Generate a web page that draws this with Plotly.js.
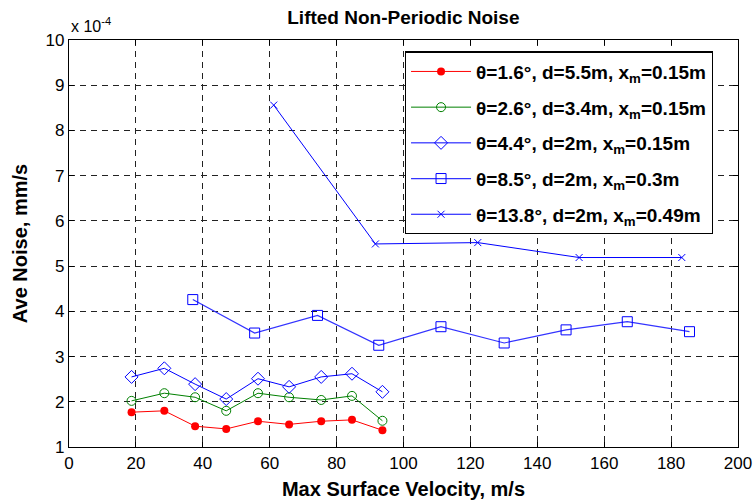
<!DOCTYPE html>
<html>
<head>
<meta charset="utf-8">
<script src="https://cdn.plot.ly/plotly-3.0.1.min.js"></script>
<style>html,body{margin:0;padding:0;background:#fff;}#chart{width:754px;height:504px;}#dbg{position:absolute;top:60px;left:80px;font:11px sans-serif;width:300px;color:#fff;visibility:hidden;}</style>
</head>
<body>
<div id="chart"></div>
<div id="dbg"></div>
<script>
const names = [
  "<b>θ=1.6°, d=5.5m, x<sub>m</sub>=0.15m</b>",
  "<b>θ=2.6°, d=3.4m, x<sub>m</sub>=0.15m</b>",
  "<b>θ=4.4°, d=2m, x<sub>m</sub>=0.15m</b>",
  "<b>θ=8.5°, d=2m, x<sub>m</sub>=0.3m</b>",
  "<b>θ=13.8°, d=2m, x<sub>m</sub>=0.49m</b>"
];
// Ave Noise values in units of 1e-4 mm/s
const xLow = [18.7, 28.5, 37.7, 47.0, 56.5, 65.8, 75.4, 84.6, 93.7];
const yRed = [1.77, 1.80, 1.46, 1.40, 1.57, 1.50, 1.57, 1.60, 1.37];
const yGreen = [2.02, 2.19, 2.10, 1.80, 2.19, 2.10, 2.04, 2.13, 1.58];
const yDiamond = [2.55, 2.74, 2.39, 2.06, 2.51, 2.33, 2.55, 2.62, 2.22];
const xSquare = [37.0, 55.5, 74.3, 92.6, 111.2, 130.1, 148.6, 166.9, 185.5];
const ySquare = [4.26, 3.52, 3.91, 3.25, 3.66, 3.30, 3.59, 3.77, 3.55];
const xCross = [61.2, 91.6, 122.2, 152.5, 183.2];
const yCross = [8.56, 5.49, 5.52, 5.19, 5.19];
const xTicks = [0, 20, 40, 60, 80, 100, 120, 140, 160, 180, 200];
const yTicks = [1, 2, 3, 4, 5, 6, 7, 8, 9, 10];

const traces = [
  {x: xLow, y: yRed, name: names[0], legendgroup: "a", mode: "lines+markers",
   line: {color: "#ff0000", width: 1}, marker: {symbol: "circle", size: 8, color: "#ff0000"}},
  {x: xLow, y: yGreen, name: names[1], legendgroup: "b", mode: "lines+markers",
   line: {color: "#008000", width: 1}, marker: {symbol: "circle-open", size: 9, color: "#008000", line: {width: 1}}},
  {x: xLow, y: yDiamond, name: names[2], legendgroup: "c", mode: "lines+markers",
   line: {color: "#0000ff", width: 1}, marker: {symbol: "diamond-open", size: 10, color: "#0000ff", line: {width: 1}}},
  {x: xSquare, y: ySquare, name: names[3], legendgroup: "d", mode: "lines+markers",
   line: {color: "#3333ff", width: 1.2}, marker: {symbol: "square-open", size: 10, color: "#0000ff", line: {width: 1}}},
  {x: xCross, y: yCross, name: names[4], legendgroup: "e", mode: "lines+markers",
   line: {color: "#0000ff", width: 1}, marker: {symbol: "x-thin-open", size: 7, color: "#0000ff", line: {width: 1, color: "#0000ff"}}}
];

const axisCommon = {
  showline: true, linecolor: "#000", linewidth: 1.2, mirror: "ticks",
  ticks: "inside", ticklen: 5, tickcolor: "#000",
  showgrid: true, gridcolor: "#222", griddash: "6px,5px", gridwidth: 1,
  zeroline: false,
  tickfont: {family: "Liberation Sans, Arial, sans-serif", size: 17, color: "#000"}
};

const layout = {
  width: 754, height: 504,
  margin: {l: 69, r: 16, t: 40, b: 57},
  paper_bgcolor: "#fff", plot_bgcolor: "#fff",
  font: {family: "Liberation Sans, Arial, sans-serif", color: "#000"},
  title: {text: "<b>Lifted Non-Periodic Noise</b>", x: 0.535, xanchor: "center", y: 0.965, yanchor: "middle",
          font: {size: 19, color: "#000"}},
  xaxis: Object.assign({}, axisCommon, {
    range: [0, 200], tickvals: xTicks, ticktext: xTicks.map(String),
    title: {text: "<b>Max Surface Velocity, m/s</b>", font: {size: 20, color: "#000"}, standoff: 10}
  }),
  yaxis: Object.assign({}, axisCommon, {
    range: [1, 10], tickvals: yTicks, ticktext: yTicks.map(String),
    title: {text: "<b>Ave Noise, mm/s</b>", font: {size: 20, color: "#000"}, standoff: 12}
  }),
  legend: {
    x: 0.502, y: 0.972, xanchor: "left", yanchor: "top",
    bgcolor: "#fff", bordercolor: "#000", borderwidth: 1.2,
    font: {size: 19, color: "#000", family: "Liberation Sans, Arial, sans-serif"},
    tracegroupgap: 8, itemwidth: 60, traceorder: "grouped"
  },
  annotations: [
    {text: "x 10<sup>-4</sup>", xref: "paper", yref: "paper", x: 0, y: 1, xanchor: "left", yanchor: "bottom",
     yshift: 3, showarrow: false, font: {size: 16, color: "#000"}}
  ],
  showlegend: true
};

Plotly.newPlot("chart", traces, layout, {displayModeBar: false, staticPlot: true}).then(()=>{
  const g = document.querySelectorAll('.gridlayer path');
  document.getElementById('dbg').textContent = 'grid paths: ' + g.length;
});
</script>
</body>
</html>
